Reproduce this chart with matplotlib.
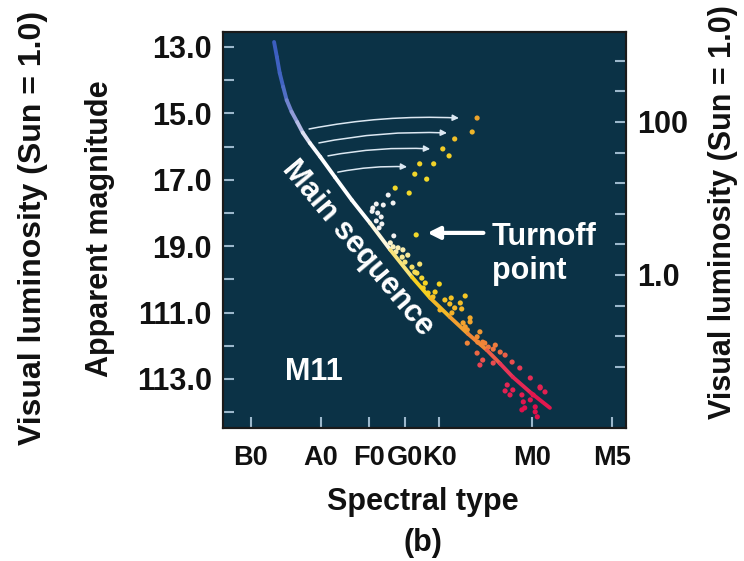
import numpy as np
import matplotlib
matplotlib.use("Agg")
import matplotlib.pyplot as plt
from matplotlib.collections import LineCollection
from matplotlib.colors import LinearSegmentedColormap, Normalize

plt.rcParams['font.family'] = ['Liberation Sans', 'DejaVu Sans']
plt.rcParams['font.weight'] = 'bold'

# ---------------- data ----------------
spectral_types = ['B0', 'A0', 'F0', 'G0', 'K0', 'M0', 'M5']
spectral_index = [0.0, 1.0, 1.69, 2.2, 2.69, 4.02, 5.16]

mag_ticks = [13, 14, 15, 16, 17, 18, 19, 20, 21, 22, 23, 24]
mag_label_pos = [13, 15, 17, 19, 21, 23]
mag_labels = ['13.0', '15.0', '17.0', '19.0', '111.0', '113.0']

lum_ticks = [2.8, 2.4, 2.0, 1.6, 1.2, 0.8, 0.4, 0.0, -0.4, -0.8, -1.2]
lum_label_pos = [2.0, 0.0]
lum_labels = ['100', '1.0']

# main-sequence curve (spectral index, apparent magnitude)
ms_x = [0.33, 0.37, 0.41, 0.46, 0.51, 0.58, 0.66, 0.74, 0.84, 0.99, 1.20, 1.44, 1.70, 1.99, 2.30,
        2.56, 2.84, 3.10, 3.37, 3.56, 3.74, 4.00, 4.27]
ms_y = [12.85, 13.30, 13.78, 14.20, 14.60, 14.95, 15.26, 15.58, 15.89, 16.31, 16.92, 17.61, 18.30,
        19.11, 19.93, 20.56, 21.13, 21.64, 22.13, 22.54, 22.94, 23.42, 23.87]

# giant-branch stars (yellow / orange)
giant_x = [3.23, 3.16, 2.91, 2.74, 2.83, 2.41, 2.61, 2.34, 2.51, 2.06, 2.26, 2.36]
giant_y = [15.14, 15.56, 15.77, 16.07, 16.28, 16.52, 16.52, 16.83, 16.98, 17.25, 17.40, 18.66]

# turnoff (white) stars
turn_x = [1.96, 2.03, 1.89, 1.79, 1.74, 1.73, 1.81, 1.86, 1.79, 1.87, 1.83, 2.04]
turn_y = [17.46, 17.70, 17.76, 17.73, 17.85, 17.95, 18.00, 18.12, 18.24, 18.33, 18.45, 18.69]

# main-sequence stars
star_x = [1.99, 2.03, 2.10, 2.17, 2.24, 2.16, 2.41, 2.30, 2.37, 2.44, 2.69, 2.46, 2.53, 2.60,
          2.86, 3.06, 2.99, 2.84, 3.01, 2.70, 2.87, 3.13, 3.03, 3.09, 3.23, 3.31, 3.39, 3.06,
          3.09, 3.24, 3.34, 3.46, 3.56, 3.23, 3.31, 3.27, 3.46, 3.73, 3.66, 3.74, 3.63, 3.70,
          3.87, 4.13, 4.20, 4.03, 3.99, 3.89, 4.06, 3.91, 3.87, 4.06, 4.09,
          2.07, 2.20, 2.34, 2.49, 2.63, 2.77, 2.91, 3.13, 3.27, 3.49, 3.63, 3.84, 3.99, 4.13]
star_y = [18.90, 19.02, 19.05, 19.11, 19.27, 19.33, 19.54, 19.63, 19.81, 19.96, 20.14, 20.26, 20.41, 20.53,
          20.56, 20.50, 20.71, 20.74, 20.89, 20.92, 21.01, 21.16, 21.31, 21.52, 21.73, 21.89, 22.04, 21.43,
          21.92, 21.89, 21.92, 22.10, 22.19, 22.22, 22.43, 22.58, 22.52, 22.49, 23.18, 23.33, 23.36, 23.48,
          23.48, 23.24, 23.39, 23.48, 23.63, 23.69, 23.84, 23.87, 23.93, 23.99, 24.14,
          19.17, 19.48, 19.78, 20.11, 20.38, 20.62, 20.86, 21.28, 21.58, 21.98, 22.28, 22.67, 22.97, 23.27]

# evolution arrows: (x0, y0, x1, y1)
arrow_x0 = [0.83, 0.97, 1.10, 1.24]
arrow_y0 = [15.47, 15.89, 16.28, 16.77]
arrow_x1 = [2.97, 2.80, 2.56, 2.23]
arrow_y1 = [15.14, 15.59, 16.07, 16.61]

# ---------------- figure ----------------
bg = '#0b3246'
fig = plt.figure(figsize=(7.44, 5.61), dpi=100)
ax = fig.add_axes([0.2997, 0.2371, 0.5417, 0.7059])
ax.set_facecolor(bg)
ax.set_xlim(-0.4, 5.357)
ax.set_ylim(24.476, 12.548)

cmap = LinearSegmentedColormap.from_list('ms', [
    (0.00, '#3a5cc0'), (0.13, '#4466c2'), (0.20, '#8c96d6'), (0.26, '#d8dcf0'), (0.30, '#ffffff'),
    (0.51, '#ffffff'), (0.58, '#f8eaa0'), (0.66, '#f6d420'), (0.74, '#f4b22a'),
    (0.82, '#f08838'), (0.90, '#e83458'), (1.00, '#e0104c')])
norm = Normalize(vmin=12.85, vmax=23.87)

pts = np.column_stack([ms_x, ms_y])
segs = np.stack([pts[:-1], pts[1:]], axis=1)
mids = 0.5 * (pts[:-1, 1] + pts[1:, 1])
lc = LineCollection(segs, colors=cmap(norm(mids)), linewidths=2.8, capstyle='round',
                    joinstyle='round', zorder=3)
ax.add_collection(lc)

# stars
ax.scatter(star_x, star_y, s=14, c=cmap(norm(np.array(star_y))), edgecolors='none', zorder=2)
ax.scatter(turn_x, turn_y, s=13, c='#f2f2f2', edgecolors='none', zorder=2)
gcmap = LinearSegmentedColormap.from_list('g', ['#eda22c', '#f2cc28', '#f2d82a'])
gnorm = Normalize(vmin=15.1, vmax=17.0)
ax.scatter(giant_x, giant_y, s=14, c=gcmap(gnorm(np.array(giant_y))), edgecolors='none', zorder=2)

# evolution arrows
for x0, y0, x1, y1 in zip(arrow_x0, arrow_y0, arrow_x1, arrow_y1):
    ax.annotate('', xy=(x1, y1), xytext=(x0, y0),
                arrowprops=dict(arrowstyle='-|>', color='#dce8f2', lw=1.1, mutation_scale=9,
                                shrinkA=0, shrinkB=0, connectionstyle='arc3,rad=-0.06'),
                zorder=4)

# turnoff arrow
ax.annotate('', xy=(2.52, 18.60), xytext=(3.32, 18.60),
            arrowprops=dict(arrowstyle='-|>', color='white', lw=3.0, mutation_scale=18,
                            shrinkA=0, shrinkB=0), zorder=4)
ax.text(3.44, 18.96, 'Turnoff', color='white', fontsize=22, fontweight='bold',
        ha='left', va='baseline', zorder=5)
ax.text(3.44, 20.00, 'point', color='white', fontsize=22, fontweight='bold',
        ha='left', va='baseline', zorder=5)

ax.text(1.53, 19.05, 'Main sequence', color='white', fontsize=22, fontweight='bold',
        rotation=-50, rotation_mode='anchor', ha='center', va='center', zorder=5)
ax.text(0.49, 22.79, 'M11', color='white', fontsize=22, fontweight='bold',
        ha='left', va='center', zorder=5)

# axes styling
tick_col = '#9cb8cc'
ax.set_xticks(spectral_index)
ax.set_xticklabels(spectral_types)
ax.set_yticks(mag_ticks)
ax.set_yticklabels([mag_labels[mag_label_pos.index(t)] if t in mag_label_pos else '' for t in mag_ticks])
ax.tick_params(axis='both', direction='in', length=8, width=1.5, color=tick_col,
               labelsize=22, labelcolor='#111111')
ax.tick_params(axis='x', pad=12, labelsize=19.5)
ax.tick_params(axis='y', pad=8)
for s in ax.spines.values():
    s.set_color('#1a1a1a')
    s.set_linewidth(1.5)

ax2 = ax.twinx()
ax2.set_ylim(-2.0, 3.176)
ax2.set_yticks(lum_ticks)
ax2.set_yticklabels([lum_labels[lum_label_pos.index(t)] if t in lum_label_pos else '' for t in lum_ticks])
ax2.tick_params(axis='y', direction='in', length=8, width=1.5, color=tick_col,
                labelsize=22, labelcolor='#111111', pad=8)
for s in ax2.spines.values():
    s.set_color('#1a1a1a')
    s.set_linewidth(1.5)

# labels
fig.text(100 / 744, 1 - 229 / 561, 'Apparent magnitude', rotation=90, fontsize=22,
         fontweight='bold', ha='center', va='center', color='#111111')
fig.text(33 / 744, 1 - 228 / 561, 'Visual luminosity (Sun = 1.0)', rotation=90, fontsize=23,
         fontweight='bold', ha='center', va='center', color='#111111')
fig.text(723 / 744, 1 - 212 / 561, 'Visual luminosity (Sun = 1.0)', rotation=90, fontsize=22,
         fontweight='bold', ha='center', va='center', color='#111111')
fig.text(423 / 744, 1 - 502 / 561, 'Spectral type', fontsize=22, fontweight='bold',
         ha='center', va='center', color='#111111')
fig.text(423 / 744, 1 - 543 / 561, '(b)', fontsize=22, fontweight='bold',
         ha='center', va='center', color='#111111')

fig.savefig('out.png', dpi=100, facecolor='white')
